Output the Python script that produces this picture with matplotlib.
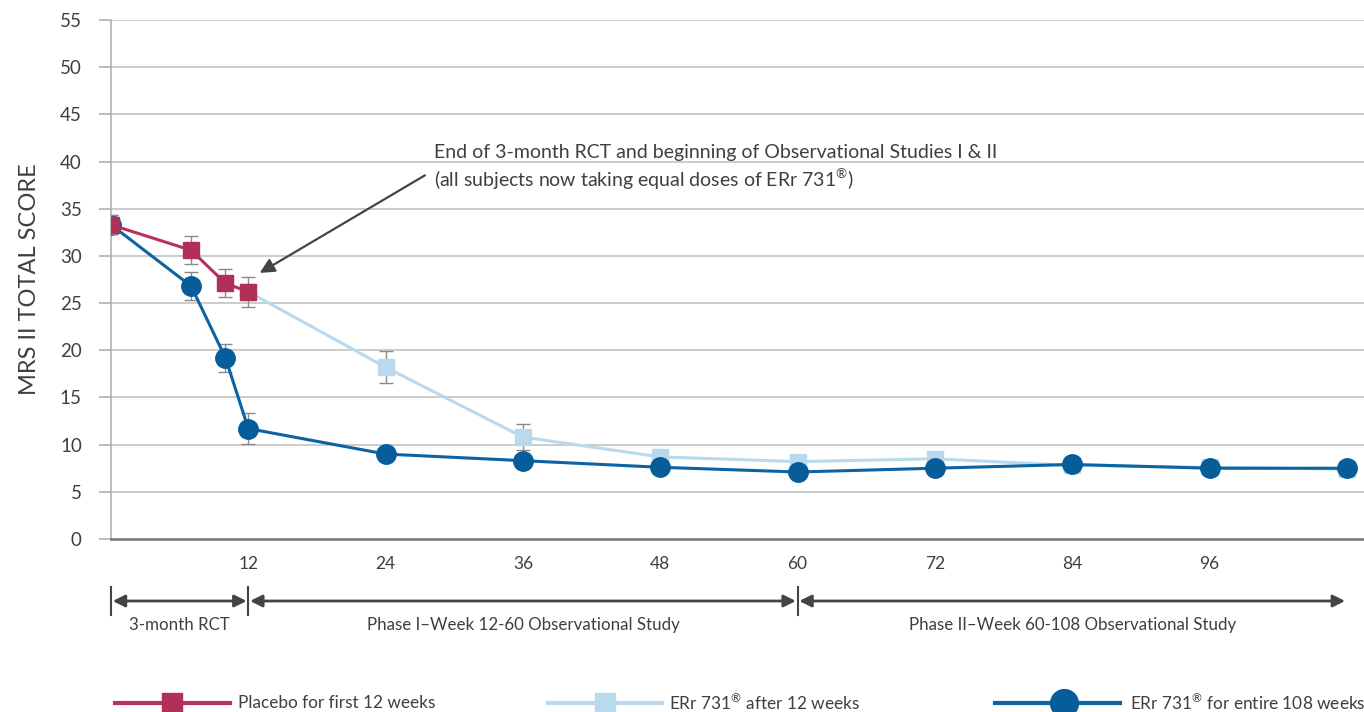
import numpy as np
import matplotlib.pyplot as plt
from matplotlib.lines import Line2D

plt.rcParams['font.family'] = ['Lato', 'DejaVu Sans']
plt.rcParams['mathtext.fontset'] = 'custom'
plt.rcParams['mathtext.rm'] = 'Lato'

# ---- data ----
placebo_wk = [0, 7, 10, 12]
placebo_val = [33.3, 30.6, 27.1, 26.2]
placebo_err = [1.0, 1.5, 1.5, 1.6]

after_wk = [12, 24, 36, 48, 60, 72, 84, 96, 108]
after_val = [26.2, 18.2, 10.8, 8.7, 8.2, 8.5, 7.8, 7.6, 7.4]
after_err = [0, 1.7, 1.4, 0, 0, 0, 0, 0, 0]

entire_wk = [0, 7, 10, 12, 24, 36, 48, 60, 72, 84, 96, 108]
entire_val = [33.3, 26.8, 19.2, 11.7, 9.0, 8.3, 7.6, 7.1, 7.5, 7.9, 7.5, 7.5]
entire_err = [1.0, 1.5, 1.5, 1.6, 0, 0, 0, 0, 0, 0, 0, 0]

xticks = [12, 24, 36, 48, 60, 72, 84, 96]
yticks = list(range(0, 56, 5))
phases = [(0, 12, '3-month RCT'),
          (12, 60, 'Phase I\u2013Week 12-60 Observational Study'),
          (60, 108, 'Phase II\u2013Week 60-108 Observational Study')]

reg = '$^{\\mathrm{\u00ae}}$'

c_red = '#B8325A'
c_light = '#B9D9EF'
c_dark = '#0B63A3'
c_text = '#3F3F3F'
c_err = '#8A8A8A'

fig = plt.figure(figsize=(13.64, 7.12), dpi=100)
ax = fig.add_axes([111/1364, 1 - 539/712, 1253/1364, 519/712])

ax.set_xlim(0, 109.5)
ax.set_ylim(0, 55)
ax.set_yticks(yticks)
ax.set_xticks(xticks)
ax.yaxis.grid(True, color='#C4C4C4', lw=1.2)
ax.set_axisbelow(True)
for s in ['top', 'right']:
    ax.spines[s].set_visible(False)
ax.spines['left'].set_color('#B0B0B0')
ax.spines['left'].set_linewidth(1.2)
ax.spines['bottom'].set_color('#808080')
ax.spines['bottom'].set_linewidth(2)
ax.tick_params(axis='y', length=9, color='#B0B0B0', width=1.2, labelsize=13.5,
               labelcolor=c_text, pad=12)
ax.tick_params(axis='x', length=0, labelsize=12.5, labelcolor=c_text, pad=12)
ax.set_ylabel('MRS II TOTAL SCORE', fontsize=17, color=c_text, labelpad=14)

# series
ax.errorbar(after_wk, after_val, yerr=after_err, color=c_light, lw=2.2,
            marker='s', ms=11, mfc=c_light, mec=c_light, ecolor=c_err,
            elinewidth=1, capsize=5, zorder=3)
ax.errorbar(entire_wk, entire_val, yerr=entire_err, color=c_dark, lw=2.2,
            marker='o', ms=14, mfc='#075C9A', mec='#075C9A', ecolor=c_err,
            elinewidth=1, capsize=5, zorder=4)
ax.errorbar(placebo_wk, placebo_val, yerr=placebo_err, color=c_red, lw=2.2,
            marker='s', ms=11, mfc='#B03057', mec='#B03057', ecolor=c_err,
            elinewidth=1, capsize=5, zorder=5)

# annotation arrow
ax.annotate('End of 3-month RCT and beginning of Observational Studies I & II\n'
            '(all subjects now taking equal doses of ERr 731' + reg + ')',
            xy=(13.0, 28.2), xytext=(28.2, 41.9), fontsize=14, color=c_text,
            va='top', ha='left', linespacing=1.3,
            arrowprops=dict(arrowstyle='-|>', color='#444444', lw=1.6,
                            mutation_scale=22, shrinkA=5, shrinkB=0,
                            relpos=(0, 0.45)))

# phase arrows under the axis
ytr = ax.get_xaxis_transform()
yarr = -62 / 519
for a, b, name in phases:
    ax.annotate('', xy=(a + 0.15, yarr), xytext=(b - 0.15, yarr), xycoords=ytr,
                textcoords=ytr, annotation_clip=False,
                arrowprops=dict(arrowstyle='<|-|>', color='#444444', lw=2,
                                mutation_scale=18, shrinkA=0, shrinkB=0))
    ax.text((a + b) / 2, -86 / 519, name, transform=ytr, ha='center', va='center',
            fontsize=12.2, color=c_text)
for xv in [0, 12, 60]:
    ax.plot([xv, xv], [yarr - 14 / 519, yarr + 14 / 519], transform=ytr,
            color='#444444', lw=1.5, clip_on=False)

# legend drawn by hand at bottom
W, H = 1364, 712
leg = [(115, 230, 172, 's', c_red, '#B03057', 15, 'Placebo for first 12 weeks', 238),
       (548, 662, 605, 's', c_light, c_light, 15, 'ERr 731' + reg + ' after 12 weeks', 669),
       (995, 1120, 1064, 'o', c_dark, '#075C9A', 20, 'ERr 731' + reg + ' for entire 108 weeks', 1130)]
yl = 1 - 703 / H
for x0, x1, xm, mk, lc, mc, ms, txt, xt in leg:
    fig.add_artist(Line2D([x0 / W, x1 / W], [yl, yl], color=lc, lw=3))
    fig.add_artist(Line2D([xm / W], [yl], marker=mk, ms=ms, color=mc, mec=mc))
    fig.text(xt / W, yl, txt, fontsize=12.4, color=c_text, va='center')

fig.savefig('out.png', dpi=100)
